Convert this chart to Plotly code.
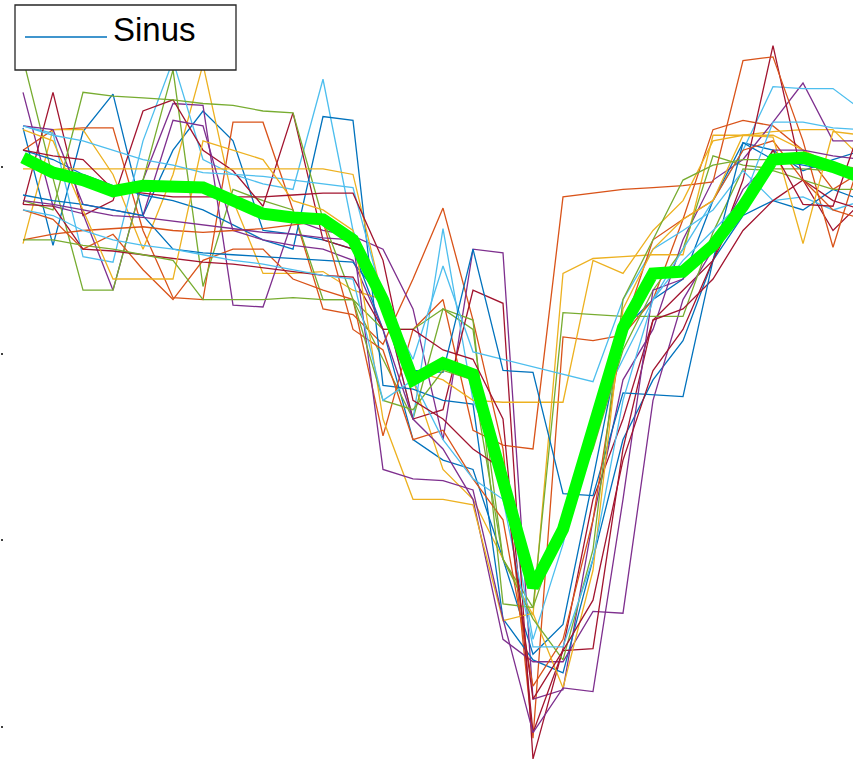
import plotly.graph_objects as go

# Sample index of each beat point (one sample per column)
samples = list(range(29))

# Individual beats (mV), aligned on the sinus template
beat_01 = [0.21, -0.42, 0.19, 0.39, -0.26, 0.09, 0.30, 0.14, -0.34, -0.36, -0.39, -0.44, -0.87, -1.46, -1.57, -1.62, -2.10, -2.61, -2.45, -1.67, -0.87, -0.71, -0.60, -0.18, 0.13, 0.09, -0.02, 0.04, 0.09]
beat_02 = [0.09, 0.20, 0.21, 0.21, -0.34, -0.70, -0.71, 0.24, 0.24, -0.23, -0.76, -0.79, -0.95, -0.60, -0.22, -0.82, -1.51, -3.06, -0.91, -0.93, -0.90, -0.71, -0.28, 0.20, 0.25, 0.22, 0.09, -0.12, -0.02]
beat_03 = [-0.41, 0.20, 0.20, -0.04, -0.44, -0.04, 0.55, -0.18, -0.57, -0.57, -0.56, -0.66, -0.71, -1.14, -1.62, -1.78, -2.10, -2.40, -0.57, -0.49, -0.48, -0.47, -0.47, 0.17, 0.17, 0.19, 0.20, 0.20, 0.04]
beat_04 = [0.40, -0.21, -0.25, -0.66, -0.07, 0.34, 0.33, -0.74, -0.75, -0.28, -0.34, -0.37, -0.44, -0.76, -1.46, -0.44, -0.46, -2.85, -2.80, -1.89, -1.14, -0.87, -0.39, -0.07, 0.04, 0.24, 0.45, 0.14, 0.14]
beat_05 = [0.58, -0.06, -0.66, -0.66, -0.07, 0.52, -0.64, -0.12, -0.18, -0.23, -0.71, -0.71, -1.03, -1.35, -0.76, -0.87, -2.10, -2.36, -1.89, -1.51, -0.98, -0.66, -0.44, 0.06, 0.01, -0.01, -0.01, -0.02, -0.04]
beat_06 = [0.22, 0.18, -0.48, -0.51, 0.14, 0.57, 0.04, -0.04, -0.09, -0.12, 0.47, -0.34, -0.71, -1.35, -0.33, -1.25, -1.62, -2.53, -2.02, -1.35, -1.03, -0.71, -0.44, -0.18, 0.09, 0.43, 0.42, 0.42, 0.30]
beat_07 = [-0.20, 0.40, -0.26, -0.18, 0.30, 0.36, 0.09, -0.02, -0.21, 0.29, -0.39, -0.44, -0.71, -1.35, -1.30, -0.66, -0.73, -3.17, -2.58, -1.78, -1.35, -0.82, -0.66, -0.50, -0.07, 0.65, -0.07, -0.34, -0.18]
beat_08 = [0.09, 0.04, -0.04, -0.10, -0.15, -0.18, -0.23, -0.31, -0.39, -0.44, 0.27, 0.25, -1.17, -1.19, -1.25, -1.27, -2.42, -2.64, -2.71, -2.10, -1.46, -1.14, -0.93, -0.50, -0.26, -0.18, -0.23, -0.12, -0.18]
beat_09 = [-0.23, -0.28, -0.44, -0.36, -0.55, -0.71, -0.50, -0.44, -0.44, -0.60, -0.66, -0.71, -1.44, -0.87, -0.71, -1.41, -1.49, -1.51, -0.16, -0.14, -0.12, -0.11, -0.10, -0.08, 0.57, 0.59, 0.14, -0.43, 0.09]
beat_10 = [-0.01, -0.01, -0.01, -0.01, -0.01, -0.01, -0.01, -0.01, -0.01, -0.01, -0.01, -0.04, -0.71, -1.09, -1.14, -1.25, -1.26, -1.26, -1.26, -0.50, -0.57, -0.34, -0.18, 0.14, 0.17, 0.17, 0.09, 0.01, -0.07]
beat_11 = [0.22, 0.20, -0.20, -0.23, -0.26, 0.25, 0.22, -0.34, -0.39, -0.42, -0.44, -0.50, -0.87, -1.35, -1.51, -1.78, -2.53, -2.65, -2.65, -2.38, -2.39, -1.25, -0.71, -0.44, -0.12, 0.04, 0.04, -0.02, -0.04]
beat_12 = [-0.18, -0.23, 0.40, 0.38, 0.37, 0.36, 0.34, 0.33, 0.30, 0.29, -0.28, -0.71, -0.87, -0.87, -0.76, -0.82, -2.34, -2.36, -0.78, -0.79, -0.80, -0.80, -0.80, -0.35, -0.01, -0.02, -0.07, -0.12, -0.12]
beat_13 = [0.22, 0.17, 0.14, 0.09, 0.04, 0.01, -0.03, -0.04, -0.05, -0.07, -0.09, -0.11, -0.71, -1.03, -0.53, -0.99, -1.03, -1.07, -1.11, -1.15, -0.71, -0.44, -0.34, -0.23, -0.02, -0.18, -0.16, -0.23, -0.18]
beat_14 = [-0.20, -0.21, -0.44, -0.45, -0.47, -0.49, -0.51, -0.52, -0.54, -0.56, -0.58, -0.59, -0.87, -0.87, -0.98, -1.03, -1.35, -3.03, -2.59, -2.58, -1.51, -0.82, -0.76, -0.60, -0.34, -0.18, -0.07, -0.18, -0.23]
beat_15 = [-0.15, -0.18, -0.20, -0.23, -0.26, -0.44, -0.46, -0.47, -0.48, -0.49, -0.50, -0.51, -0.71, -1.09, -1.10, -0.44, -1.09, -1.10, -1.75, -1.76, -1.21, -1.22, -1.23, -0.50, 0.13, 0.04, 0.01, -0.02, -0.04]
beat_16 = [-0.39, -0.36, -0.34, -0.33, -0.32, -0.34, -0.35, -0.34, -0.33, -0.31, -0.29, -0.87, -0.98, -1.46, -1.41, -1.67, -1.89, -2.78, -2.53, -1.89, -0.87, -0.39, -0.28, -0.18, 0.09, 0.14, -0.07, -0.23, -0.28]
beat_17 = [0.20, 0.14, -0.23, -0.60, -0.60, -0.60, 0.14, 0.09, 0.04, -0.18, -0.23, -0.34, -1.35, -1.78, -1.78, -1.81, -2.43, -2.39, -2.79, -2.16, -0.76, -0.44, -0.28, -0.18, 0.17, 0.16, -0.41, 0.19, 0.17]
beat_18 = [-0.18, -0.20, -0.23, -0.26, -0.27, -0.29, -0.31, -0.33, -0.35, -0.36, -0.38, -0.39, -1.62, -1.67, -1.68, -1.73, -2.42, -3.03, -2.79, -2.81, -1.78, -0.66, -0.60, -0.39, -0.18, 0.09, 0.09, 0.06, 0.04]
beat_19 = [-0.39, -0.39, -0.42, -0.44, -0.47, -0.50, -0.71, -0.71, -0.71, -0.70, -0.71, -0.71, -1.25, -1.30, -1.09, -1.14, -2.10, -2.42, -2.64, -2.05, -0.71, -0.39, -0.07, 0.01, 0.04, 0.04, 0.04, 0.01, -0.01]
beat_20 = [-0.23, -0.26, -0.34, -0.39, -0.42, -0.44, -0.47, -0.50, -0.52, -0.55, -0.58, -0.60, -1.25, -1.14, -1.46, -1.67, -1.78, -2.57, -2.57, -2.10, -1.25, -0.71, -0.50, -0.34, -0.18, 0.24, 0.24, 0.21, 0.20]
beat_21 = [0.09, 0.06, 0.04, -0.12, -0.14, -0.16, -0.16, -0.16, -0.16, -0.15, -0.14, -0.14, -0.50, -1.25, -1.35, -1.51, -1.62, -2.85, -2.59, -2.32, -1.57, -1.09, -0.87, -0.50, -0.18, 0.09, -0.20, -0.21, 0.25]

beats = [beat_01, beat_02, beat_03, beat_04, beat_05, beat_06, beat_07,
         beat_08, beat_09, beat_10, beat_11, beat_12, beat_13, beat_14,
         beat_15, beat_16, beat_17, beat_18, beat_19, beat_20, beat_21]

# Average beat (mV)
mean_beat = [0.05, -0.03, -0.07, -0.13, -0.10, -0.11, -0.11, -0.18, -0.25, -0.27, -0.28, -0.39, -0.71, -1.14, -1.05, -1.11, -1.67, -2.25, -1.94, -1.38, -0.86, -0.57, -0.56, -0.42, -0.21, 0.04, 0.05, 0.00, -0.06]

y_ticks = [0, -1, -2, -3]
legend_label = "Sinus"

# MATLAB default line colour order
palette = ["#0072BD", "#D95319", "#EDB120", "#7E2F8E", "#77AC30", "#4DBEEE", "#A2142F"]

W, H = 853, 762
ML = 4
px_per_sample = 30.0
first_px = 23.0
px_per_mv = 186.7
zero_px = 167.0

fig = go.Figure()
for k, b in enumerate(beats):
    fig.add_trace(go.Scatter(
        x=samples, y=b, mode="lines",
        line=dict(color=palette[k % len(palette)], width=1.3),
        name=legend_label if k == 0 else f"beat {k + 1}",
        showlegend=False, hoverinfo="skip",
    ))

fig.add_trace(go.Scatter(
    x=samples, y=mean_beat, mode="lines",
    line=dict(color="#00FF00", width=12),
    showlegend=False, hoverinfo="skip", name="mean",
))

plot_w = W - ML
x0 = -(first_px - ML) / px_per_sample
x1 = x0 + plot_w / px_per_sample
y_top = zero_px / px_per_mv
y_bot = -(H - zero_px) / px_per_mv

fig.update_xaxes(range=[x0, x1], visible=False)
fig.update_yaxes(range=[y_bot, y_top], tickvals=y_ticks, ticks="outside",
                 ticklen=2, tickwidth=2, tickcolor="#404040",
                 showticklabels=False, showgrid=False, zeroline=False,
                 showline=False)


def px_x(p):
    return (p - ML) / plot_w


def px_y(p):
    return 1 - p / H


# Legend box drawn over the traces
fig.add_shape(type="rect", xref="paper", yref="paper",
              x0=px_x(15), x1=px_x(236), y0=px_y(70), y1=px_y(5),
              fillcolor="white", line=dict(color="#262626", width=1.3),
              layer="above")
fig.add_shape(type="line", xref="paper", yref="paper",
              x0=px_x(25), x1=px_x(107), y0=px_y(37), y1=px_y(37),
              line=dict(color=palette[0], width=1.3), layer="above")
fig.add_annotation(text=legend_label, xref="paper", yref="paper",
                   x=px_x(111), y=px_y(29), xanchor="left", yanchor="middle",
                   showarrow=False,
                   font=dict(family="Liberation Sans, Arial", size=33, color="black"))

fig.update_layout(width=W, height=H, margin=dict(l=ML, r=0, t=0, b=0),
                  paper_bgcolor="white", plot_bgcolor="white")

fig.write_html("out.html")
